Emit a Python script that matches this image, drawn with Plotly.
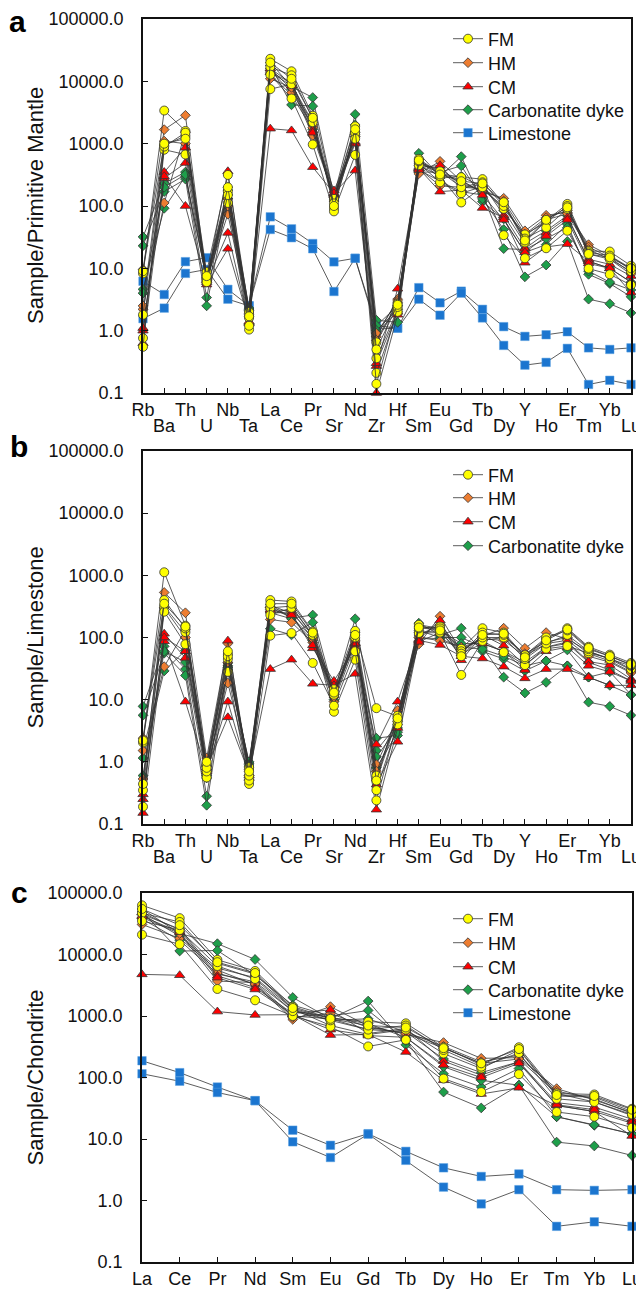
import plotly.graph_objects as go

# ---------------- categories ----------------
elems_pm = ["Rb","Ba","Th","U","Nb","Ta","La","Ce","Pr","Sr","Nd","Zr","Hf","Sm","Eu","Gd","Tb","Dy","Y","Ho","Er","Tm","Yb","Lu"]
elems_ree = ["La","Ce","Pr","Nd","Sm","Eu","Gd","Tb","Dy","Ho","Er","Tm","Yb","Lu"]
ytick_vals = [0.1, 1, 10, 100, 1000, 10000, 100000]
ytick_text = ["0.1", "1.0", "10.0", "100.0", "1000.0", "10000.0", "100000.0"]

# ---------------- panel a: Sample / Primitive Mantle ----------------
fm_pm = [
    [8.3, 3400, 1600, 8.7, 315, 2.0, 23000, 14500, 2800, 130, 1900, 0.65, 2.7, 570, 330, 290, 270, 110, 26, 58, 108, 19, 18.6, 11],
    [0.76, 935, 1330, 7, 170, 1.6, 17000, 12500, 2500, 92, 1500, 0.36, 2.2, 480, 240, 160, 205, 90, 35, 55, 100, 18, 16, 10],
    [0.55, 800, 670, 6.5, 112, 1.04, 12800, 5300, 970, 82, 660, 0.21, 2.0, 450, 300, 114, 200, 34, 14.5, 21, 40, 9.9, 8, 5.4],
    [1.8, 900, 1500, 6, 150, 1.2, 7500, 9000, 2200, 110, 1200, 0.14, 2.4, 520, 360, 200, 240, 100, 30, 45, 90, 17, 14, 9],
    [9, 1000, 1200, 7.5, 200, 1.7, 20000, 11000, 2600, 100, 1700, 0.5, 2.6, 540, 320, 250, 230, 115, 28, 60, 95, 17, 15, 10],
]
hm_pm = [
    [9.6, 1680, 2850, 6.5, 74, 1.8, 15000, 6600, 2000, 120, 1540, 0.8, 3.2, 330, 520, 250, 170, 133, 40, 71, 79, 24, 16, 9.4],
    [2.2, 112, 1530, 6, 100, 1.9, 11000, 8000, 1350, 140, 1300, 0.9, 3.0, 400, 210, 200, 190, 120, 35, 65, 85, 22, 15, 8.5],
    [2.5, 1100, 1000, 7, 130, 1.7, 14000, 9500, 1800, 125, 1400, 0.7, 2.8, 450, 400, 220, 180, 100, 33, 60, 75, 20, 14, 8],
]
cm_pm = [
    [1.0, 350, 860, 6.5, 360, 1.35, 16000, 9300, 1630, 177, 1060, 0.27, 4.7, 410, 450, 190, 225, 71, 20.7, 37, 65, 14, 11.6, 7.5],
    [0.63, 280, 490, 6, 37, 1.3, 14000, 8500, 1500, 150, 1000, 0.1, 1.8, 400, 170, 180, 93, 65, 12.3, 22, 24.5, 13, 10, 4.1],
    [1.1, 300, 100, 5.5, 20.6, 1.4, 1740, 1630, 420, 160, 370, 0.3, 2.0, 380, 250, 170, 150, 60, 18, 33, 60, 12, 10, 6],
]
carb_pm = [
    [32, 230, 350, 3.4, 200, 2.3, 20000, 8200, 5500, 146, 2960, 1.47, 1.36, 700, 300, 620, 118, 62, 18, 24, 51, 8, 5.7, 3.5],
    [23, 170, 270, 2.5, 133, 2.0, 18000, 4200, 4000, 140, 2000, 0.92, 2.0, 350, 350, 440, 130, 42, 7.3, 11.3, 27, 3.2, 2.7, 1.93],
    [4.6, 92, 300, 7, 180, 2.2, 16000, 7500, 2200, 120, 1500, 1.2, 2.5, 550, 280, 300, 200, 85, 25, 40, 70, 13, 10, 6],
    [4, 200, 320, 6.5, 150, 2.1, 13000, 6000, 1700, 135, 1300, 1.0, 2.2, 500, 330, 260, 160, 20.7, 20, 30, 45, 9, 6, 4.5],
]
lime_pm = [
    [6.2, 3.8, 12.8, 14.8, 4.6, 2.5, 67, 43, 25, 12.7, 14.5, 1.06, 1.1, 4.9, 2.8, 4.3, 2.2, 1.16, 0.81, 0.86, 0.96, 0.53, 0.5, 0.53],
    [1.56, 2.3, 8.3, 9.6, 3.2, 2.5, 42, 31, 20.6, 4.25, 14.5, 1.2, 1.1, 3.2, 1.77, 4.0, 1.6, 0.58, 0.28, 0.31, 0.52, 0.137, 0.16, 0.137],
]

# ---------------- panel b: Sample / Limestone ----------------
fm_ls = [
    [2.05, 1120, 155, 0.9, 54, 0.82, 400, 380, 125, 14.7, 128, 7.3, 5.4, 150, 136, 66, 141, 120, 50, 95, 141, 71, 53, 39],
    [0.19, 315, 122, 0.56, 28, 0.44, 300, 320, 107, 6.4, 44, 0.24, 4.5, 118, 120, 25, 88, 58, 36, 66, 73, 56, 47, 31],
    [0.35, 260, 78, 0.7, 45, 0.5, 107, 118, 39, 8, 60, 0.35, 4, 140, 150, 60, 100, 100, 45, 80, 110, 60, 45, 35],
    [0.44, 400, 140, 0.8, 50, 0.6, 230, 300, 110, 12, 100, 0.6, 5.5, 160, 140, 55, 120, 110, 52, 100, 130, 65, 50, 36],
    [2.2, 350, 150, 1.0, 60, 0.7, 350, 350, 120, 13, 110, 0.5, 5, 145, 130, 50, 110, 115, 48, 90, 135, 68, 50, 37],
]
hm_ls = [
    [2.4, 530, 250, 1.15, 80, 0.7, 195, 175, 83, 9.3, 76, 0.5, 6.7, 78, 220, 60, 105, 141, 67, 120, 94, 60, 45, 30],
    [1.52, 34, 133, 0.75, 18.5, 0.75, 250, 250, 110, 12, 90, 0.9, 5, 100, 89, 70, 90, 100, 55, 85, 100, 55, 42, 28],
    [0.53, 300, 100, 0.85, 40, 0.8, 280, 270, 95, 11, 85, 0.7, 4.5, 110, 160, 65, 95, 90, 50, 80, 90, 50, 40, 27],
]
cm_ls = [
    [0.25, 115, 47, 0.75, 89, 0.55, 330, 245, 67, 20, 70, 1.9, 9.3, 94, 188, 43, 110, 74, 36, 70, 85, 41, 36, 21.5],
    [0.15, 87, 9.3, 0.7, 9.3, 0.6, 280, 230, 75, 13, 80, 0.43, 2.1, 90, 76, 50, 46, 34, 22, 31, 31, 23, 17, 17],
    [0.3, 100, 60, 0.8, 5.2, 0.65, 31, 44, 18, 17, 26, 0.17, 3.5, 85, 120, 55, 80, 60, 30, 60, 70, 35, 28, 20],
]
carb_ls = [
    [7.8, 72, 31, 0.28, 39, 0.95, 335, 205, 230, 12.7, 200, 2.4, 2.65, 170, 110, 141, 60, 45, 29, 42, 63, 23, 28, 12],
    [5.6, 56, 24.5, 0.2, 30, 1.0, 138, 110, 175, 11, 120, 1.52, 4.0, 130, 100, 100, 70, 23, 12.8, 19, 35, 9.1, 7.8, 5.6],
    [1.15, 29, 62, 0.6, 35, 0.9, 300, 210, 100, 12, 110, 1.2, 3.5, 120, 130, 80, 80, 60, 40, 70, 80, 40, 30, 20],
    [0.6, 60, 40, 0.55, 33, 0.85, 250, 200, 90, 10, 95, 0.8, 3, 100, 95, 70, 65, 50, 35, 42, 35, 23, 17, 12],
]

# ---------------- panel c: Sample / Chondrite ----------------
fm_cn = [
    [63000, 39000, 8200, 5400, 1420, 920, 810, 760, 310, 160, 310, 55, 53, 31],
    [47000, 33800, 7200, 4800, 1300, 700, 500, 600, 245, 140, 280, 50, 48, 28],
    [21000, 14700, 2750, 1800, 1000, 670, 320, 410, 96, 58, 113, 27.5, 23, 15.3],
    [35000, 25000, 6500, 4000, 1200, 850, 600, 700, 280, 150, 250, 45, 40, 25],
    [55000, 30000, 7500, 5000, 1350, 900, 700, 650, 300, 170, 290, 52, 50, 30],
]
hm_cn = [
    [30800, 18300, 5600, 3200, 880, 1420, 690, 500, 370, 205, 210, 66, 43, 27],
    [40000, 22000, 3700, 3500, 1000, 900, 600, 550, 320, 180, 230, 60, 45, 26],
    [45000, 26000, 5000, 3300, 950, 1100, 650, 520, 300, 170, 200, 55, 40, 24],
]
cm_cn = [
    [48000, 25000, 4500, 2900, 1100, 1260, 520, 630, 185, 109, 180, 39, 33, 21],
    [42000, 23000, 4200, 2700, 1050, 490, 500, 260, 90, 54, 68, 35, 28, 11.2],
    [4750, 4600, 1180, 1040, 1050, 600, 480, 450, 160, 100, 170, 36, 30, 19],
]
carb_cn = [
    [55000, 22000, 15000, 8300, 2000, 900, 1750, 340, 115, 70, 140, 23, 16.7, 12.2],
    [50000, 11400, 11600, 4600, 1500, 1000, 1230, 400, 58, 32, 75, 8.9, 7.7, 5.4],
    [45000, 20000, 6000, 4200, 1300, 850, 900, 550, 200, 120, 180, 35, 28, 18],
    [38000, 17000, 4800, 3600, 1200, 950, 750, 450, 150, 90, 75, 23, 17, 12],
]
lime_cn = [
    [187, 120, 70, 42, 13.9, 7.9, 12.2, 6.3, 3.4, 2.46, 2.7, 1.5, 1.46, 1.5],
    [115, 87, 57, 42, 9.0, 5.0, 12.0, 4.5, 1.65, 0.88, 1.5, 0.38, 0.45, 0.38],
]

group_names = ["FM", "HM", "CM", "Carbonatite dyke", "Limestone"]

# ---------------- geometry ----------------
OFF = 8                      # page body margin of the browser
W, H = 644 - OFF, 1290 - OFF
FONT = "Liberation Sans, Arial, sans-serif"

def px_x(p):
    return (p - OFF) / W

def px_y(p):
    return 1 - (p - OFF) / H

# ---------------- styles ----------------
LINE = dict(color="#333333", width=0.8)
OUT = dict(color="#333333", width=0.8)
styles = {
    "FM": dict(symbol="circle", size=9, color="#FFFF00", line=OUT),
    "HM": dict(symbol="diamond", size=7.5, color="#ED7D31", line=OUT),
    "CM": dict(symbol="triangle-up", size=9, color="#FF0000", line=OUT),
    "Carbonatite dyke": dict(symbol="diamond", size=7.5, color="#1E9E4A", line=OUT),
    "Limestone": dict(symbol="square", size=8.5, color="#1B75CF", line=dict(color="#5aa0e0", width=0.5)),
}
draw_order = ["Limestone", "Carbonatite dyke", "HM", "CM", "FM"]

panels = [
    ("x", "y", elems_pm,
     {"FM": fm_pm, "HM": hm_pm, "CM": cm_pm, "Carbonatite dyke": carb_pm, "Limestone": lime_pm}),
    ("x2", "y2", elems_pm,
     {"FM": fm_ls, "HM": hm_ls, "CM": cm_ls, "Carbonatite dyke": carb_ls}),
    ("x3", "y3", elems_ree,
     {"FM": fm_cn, "HM": hm_cn, "CM": cm_cn, "Carbonatite dyke": carb_cn, "Limestone": lime_cn}),
]
boxes = [(143, 631, 19, 393), (143, 631, 451, 824), (142, 632, 893, 1262)]
legend_rows = [[39, 63, 87, 110, 133], [475, 498, 522, 546], [919, 943, 967, 990, 1013]]
row2_y = [426, 857, None]

fig = go.Figure()
legend_layouts = {}
leg_counter = 0
for k, (xa, ya, elems, data) in enumerate(panels):
    xs = list(range(len(elems)))
    leg_of = {}
    present = [n for n in group_names if n in data]
    for j, name in enumerate(present):
        leg_counter += 1
        key = "legend" if leg_counter == 1 else "legend" + str(leg_counter)
        leg_of[name] = key
        legend_layouts[key] = dict(x=px_x(448), y=px_y(legend_rows[k][j]), xanchor="left", yanchor="middle",
                                   bgcolor="rgba(0,0,0,0)", borderwidth=0,
                                   font=dict(size=18, family=FONT, color="#111"), itemwidth=30)
    for name in draw_order:
        if name not in data:
            continue
        for i, vals in enumerate(data[name]):
            fig.add_trace(go.Scatter(
                x=xs, y=vals, xaxis=xa, yaxis=ya, mode="lines+markers",
                name=name, legend=leg_of[name], legendgroup=leg_of[name],
                showlegend=(i == 0),
                line=LINE, marker=styles[name], cliponaxis=False,
            ))

# ---------------- layout ----------------
layout = dict(
    width=W, height=H, margin=dict(l=0, r=0, t=0, b=0, autoexpand=False),
    paper_bgcolor="white", plot_bgcolor="white",
    font=dict(family=FONT, size=18, color="#111"),
)
axis_common = dict(showline=True, linecolor="#111", linewidth=1.6, mirror=True,
                   ticks="inside", ticklen=5, tickwidth=1, tickcolor="#111",
                   showgrid=False, zeroline=False, automargin=False,
                   tickfont=dict(size=18, family=FONT, color="#111"))
for k, ((x0, x1, y0, y1), (xa, ya, elems, data)) in enumerate(zip(boxes, panels)):
    sx = "" if k == 0 else str(k + 1)
    n = len(elems)
    if n > 14:
        ttext = [e if i % 2 == 0 else "" for i, e in enumerate(elems)]
    else:
        ttext = elems
    layout["xaxis" + sx] = dict(axis_common, domain=[px_x(x0), px_x(x1)], range=[0, n - 1],
                                tickvals=list(range(n)), ticktext=ttext, tickangle=0,
                                anchor="y" + sx)
    layout["yaxis" + sx] = dict(axis_common, domain=[px_y(y1), px_y(y0)], type="log", range=[-1, 5],
                                tickvals=ytick_vals, ticktext=ytick_text, anchor="x" + sx,
                                ticklabelstandoff=14)
layout.update(legend_layouts)
fig.update_layout(**layout)

# second row of alternating category labels
for k, (xa, ya, elems, data) in enumerate(panels):
    if row2_y[k] is None:
        continue
    for i, e in enumerate(elems):
        if i % 2 == 1:
            fig.add_annotation(text=e, x=i, xref=xa, y=px_y(row2_y[k]), yref="paper",
                               xanchor="center", yanchor="middle", showarrow=False,
                               font=dict(size=18, family=FONT, color="#111"))

titles = ["Sample/Primitive Mantle", "Sample/Limestone", "Sample/Chondrite"]
letters = ["a", "b", "c"]
letter_pos = [(17, 22), (19, 447), (19, 892)]
for (x0, x1, y0, y1), t, l, (lx, ly) in zip(boxes, titles, letters, letter_pos):
    fig.add_annotation(text=t, textangle=-90, x=px_x(35), y=px_y((y0 + y1) / 2),
                       xref="paper", yref="paper", showarrow=False,
                       xanchor="center", yanchor="middle",
                       font=dict(size=22, family=FONT, color="#111"))
    fig.add_annotation(text="<b>" + l + "</b>", x=px_x(lx), y=px_y(ly),
                       xref="paper", yref="paper", showarrow=False,
                       xanchor="center", yanchor="middle",
                       font=dict(size=30, family=FONT, color="#000"))

fig.write_html("out.html")
